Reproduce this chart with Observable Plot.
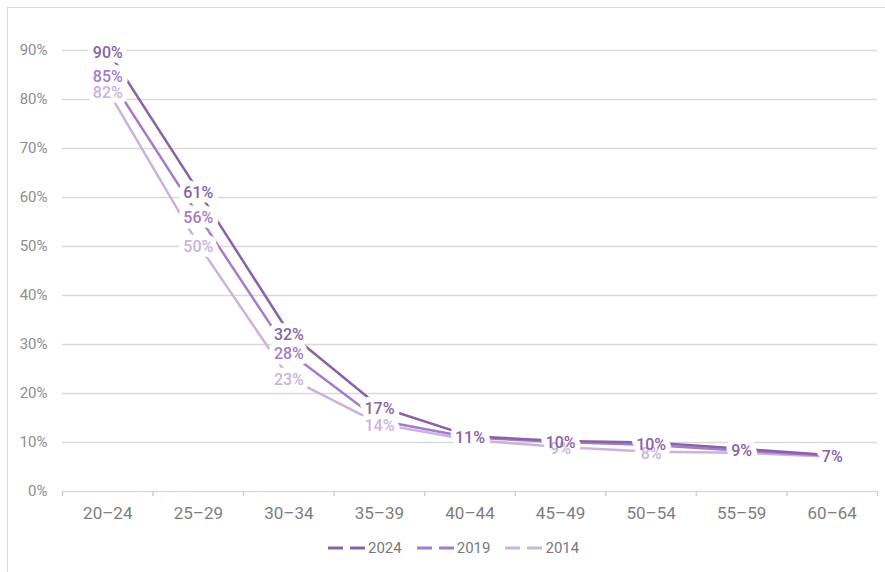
<!DOCTYPE html>
<html>
<head>
<meta charset="utf-8">
<script src="https://cdn.jsdelivr.net/npm/d3@7"></script>
<script src="https://cdn.jsdelivr.net/npm/@observablehq/plot@0.6"></script>
<style>
  html, body { margin: 0; padding: 0; background: #fff; }
  body { width: 885px; height: 572px; position: relative; overflow: hidden; font-family: Roboto, "Noto Sans", sans-serif; }
  #frame { position: absolute; left: 7px; top: 7px; width: 900px; height: 600px; border-left: 1.5px solid #dcdcdc; border-top: 1.5px solid #dcdcdc; pointer-events: none; }
  #chart { position: absolute; left: 0; top: 0; }
  #legend { position: absolute; left: 328px; top: 539px; display: flex; align-items: center; font-size: 15px; color: #7a7a7a; }
  .item { display: flex; align-items: center; margin-right: 15px; }
  .item svg { margin-right: 3px; }
</style>
</head>
<body>
<div id="frame"></div>
<div id="chart"></div>
<div id="legend"></div>
<script>
// ---- data ----
const ageGroups = ["20–24", "25–29", "30–34", "35–39", "40–44", "45–49", "50–54", "55–59", "60–64"];
const years = ["2024", "2019", "2014"];
const colors = ["#8a62a8", "#a67bc9", "#cbb3de"];
const values2024 = [90, 61.3, 32.4, 17.3, 11.3, 10.3, 10.0, 8.7, 7.4];
const values2019 = [85, 56.3, 28.4, 14.5, 11.0, 10.1, 9.5, 8.3, 7.3];
const values2014 = [81.8, 50.4, 23.2, 13.8, 10.5, 9.1, 8.1, 7.9, 7.1];
const showLabel2024 = [true, true, true, true, true, true, true, true, true];
const showLabel2019 = [true, true, true, false, false, false, false, false, false];
const showLabel2014 = [true, true, true, true, false, true, true, false, false];
const yTicks = [0, 10, 20, 30, 40, 50, 60, 70, 80, 90];

// ---- table ----
const seriesValues = {"2024": values2024, "2019": values2019, "2014": values2014};
const seriesShow = {"2024": showLabel2024, "2019": showLabel2019, "2014": showLabel2014};
const rows = [];
for (const year of years.slice().reverse()) {
  seriesValues[year].forEach((v, i) => rows.push({year, age: ageGroups[i], xc: i + 0.5, value: v, show: seriesShow[year][i]}));
}
const labelRows = rows.filter(d => d.show);
const boundaries = d3.range(0, ageGroups.length + 1);
const centers = ageGroups.map((_, i) => i + 0.5);
const fmt = d => Math.round(d.value) + "%";

const chart = Plot.plot({
  width: 885,
  height: 530,
  marginLeft: 62,
  marginRight: 8,
  marginTop: 50,
  marginBottom: 39,
  style: {fontFamily: "Roboto, sans-serif", color: "#8a8a8a", background: "transparent", overflow: "visible"},
  x: {type: "linear", domain: [0, ageGroups.length], axis: null},
  y: {domain: [0, 90], axis: null},
  color: {domain: years, range: colors},
  marks: [
    Plot.gridY(yTicks, {stroke: "#d9d9d9", strokeOpacity: 1, strokeWidth: 1.5}),
    Plot.axisY(yTicks, {tickSize: 0, tickPadding: 15, fontSize: 15, label: null, tickFormat: d => d + "%", fill: "#8e8e8e"}),
    Plot.axisX(boundaries, {tickSize: 5, label: null, tickFormat: () => "", stroke: "#d0d0d0", strokeWidth: 1.5}),
    Plot.axisX(centers, {tickSize: 0, tickPadding: 15, fontSize: 17, label: null, tickFormat: d => ageGroups[Math.floor(d)], fill: "#7e7e7e"}),
    Plot.line(rows, {x: "xc", y: "value", z: "year", stroke: "year", strokeWidth: 2.5}),
    Plot.text(labelRows, {
      x: "xc", y: "value", text: fmt,
      fill: "white", stroke: "white", strokeWidth: 11, fontSize: 16, fontWeight: 500, dy: 2
    }),
    Plot.text(labelRows, {
      x: "xc", y: "value", text: fmt,
      fill: "year", fontSize: 16, fontWeight: 500, dy: 2
    })
  ]
});
document.getElementById("chart").appendChild(chart);

// ---- legend ----
const legend = document.getElementById("legend");
years.forEach((y, k) => {
  const item = document.createElement("div");
  item.className = "item";
  item.innerHTML = `<svg width="37" height="4"><line x1="0" y1="2" x2="37" y2="2" stroke="${colors[k]}" stroke-width="3" stroke-dasharray="15,7"/></svg><span>${y}</span>`;
  legend.appendChild(item);
});
</script>
</body>
</html>
